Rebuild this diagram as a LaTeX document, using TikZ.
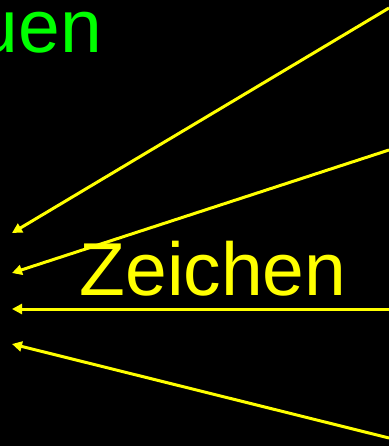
\documentclass[tikz,border=0pt]{standalone}
\usepackage{fontspec}
\setmainfont{Liberation Sans}
\usepackage{xcolor}
\usetikzlibrary{arrows.meta}
\definecolor{pfeilgelb}{RGB}{255,255,0}
\definecolor{textgruen}{RGB}{0,255,0}
\tikzset{
	pfeil/.style={draw=pfeilgelb, line width=3pt, -{Triangle[length=10pt,width=10pt]}},
	wort/.style={inner sep=0pt, font=\fontsize{75}{78}\selectfont}
}

\begin{document}
\begin{tikzpicture}[x=1pt, y=-1pt]
		\fill[black] (0,0) rectangle (389,446);
		\useasboundingbox (0,0) rectangle (389,446);
		\node[wort, text=textgruen, anchor=base east] (uen) at (102,53) {uen};
		\node[wort, text=pfeilgelb, anchor=base] (zeichen) at (213,295) {Zeichen};
		\coordinate (S1) at (389,8);
		\coordinate (S2) at (389,150);
		\coordinate (S3) at (389,309);
		\coordinate (S4) at (389,438);
		\coordinate (T1) at (12,233);
		\coordinate (T2) at (12,273);
		\coordinate (T3) at (12,309);
		\coordinate (T4) at (12,344);
		\draw[pfeil] (S1) -- (T1);
		\draw[pfeil] (S2) -- (T2);
		\draw[pfeil] (S3) -- (T3);
		\draw[pfeil] (S4) -- (T4);
	\end{tikzpicture}
\end{document}
